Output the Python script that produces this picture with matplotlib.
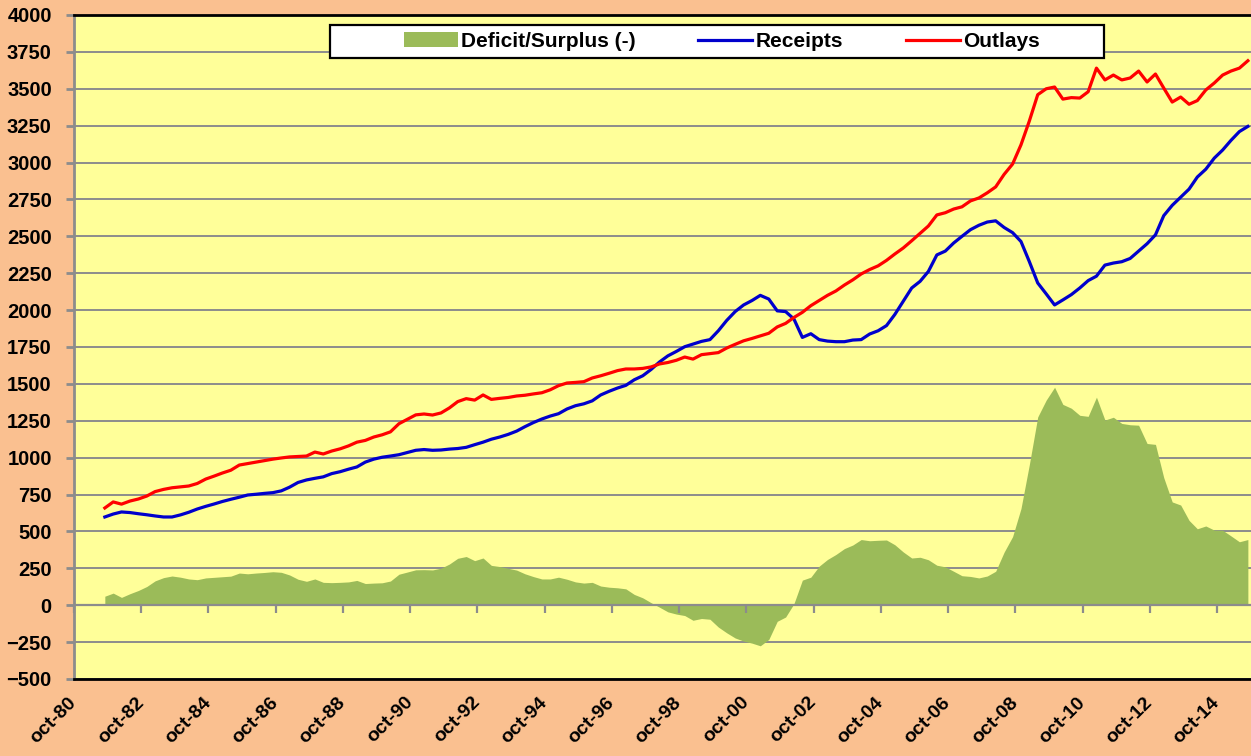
import matplotlib
matplotlib.use("Agg")
import matplotlib.pyplot as plt
import matplotlib.dates as mdates
import matplotlib.ticker as mticker
from matplotlib.patches import Rectangle
import numpy as np
import pandas as pd

plt.rcParams['font.family'] = ['Liberation Sans', 'DejaVu Sans']
plt.rcParams['font.weight'] = 'bold'

# rolling 12-month totals, billions $, one value per quarter from sep-81
receipts = [598, 618, 632, 628, 620, 613, 605, 598, 598, 612,
            630, 652, 670, 686, 703, 718, 732, 747, 752, 758,
            763, 775, 800, 832, 849, 860, 870, 892, 905, 922,
            937, 970, 990, 1003, 1011, 1020, 1035, 1050, 1055, 1050,
            1052, 1058, 1062, 1070, 1088, 1105, 1125, 1140, 1158, 1180,
            1210, 1238, 1262, 1282, 1298, 1330, 1352, 1365, 1385, 1425,
            1450, 1472, 1490, 1528, 1555, 1598, 1648, 1690, 1720, 1752,
            1770, 1788, 1800, 1860, 1930, 1990, 2035, 2065, 2100, 2075,
            1995, 1990, 1940, 1815, 1840, 1800, 1790, 1786, 1786, 1797,
            1800, 1838, 1860, 1895, 1970, 2060, 2150, 2195, 2262, 2374,
            2400, 2455, 2500, 2545, 2575, 2597, 2605, 2560, 2525, 2465,
            2330, 2184, 2110, 2035, 2069, 2105, 2150, 2200, 2230, 2305,
            2319, 2328, 2350, 2400, 2450, 2510, 2640, 2710, 2765, 2820,
            2902, 2955, 3030, 3085, 3150, 3210, 3245]

outlays = [659, 700, 685, 706, 720, 740, 770, 785, 796, 802,
           808, 825, 855, 875, 896, 915, 950, 960, 970, 980,
           990, 998, 1005, 1008, 1011, 1038, 1025, 1045, 1060, 1080,
           1105, 1117, 1140, 1155, 1175, 1230, 1260, 1290, 1296, 1289,
           1303, 1337, 1380, 1400, 1390, 1425, 1395, 1402, 1408, 1418,
           1423, 1432, 1440, 1460, 1488, 1506, 1510, 1515, 1540, 1555,
           1572, 1590, 1601, 1601, 1605, 1615, 1635, 1645, 1660, 1682,
           1668, 1698, 1705, 1712, 1743, 1768, 1792, 1808, 1825, 1843,
           1886, 1910, 1950, 1985, 2030, 2065, 2100, 2130, 2170, 2205,
           2245, 2275, 2300, 2337, 2380, 2421, 2470, 2520, 2570, 2645,
           2660, 2685, 2700, 2740, 2760, 2795, 2835, 2920, 2990, 3120,
           3280, 3460, 3500, 3512, 3430, 3440, 3437, 3480, 3640, 3560,
           3593, 3560, 3573, 3620, 3546, 3600, 3505, 3410, 3444, 3395,
           3420, 3492, 3539, 3593, 3620, 3640, 3690]

dates = pd.date_range('1981-09-01', periods=len(receipts), freq='3MS')
deficit = np.array(outlays) - np.array(receipts)

grid_col = '#8C8C8C'

fig = plt.figure(figsize=(12.51, 7.56), dpi=100, facecolor='#FAC090')
ax = fig.add_axes([74 / 1251, 77 / 756, 1177 / 1251, 664 / 756])
ax.set_facecolor('#FFFF99')

ax.fill_between(dates, deficit, 0, color='#9BBB59', lw=0, zorder=2,
                label='Deficit/Surplus (-)')
ax.plot(dates, receipts, color='#0000CC', lw=2.3, zorder=3, label='Receipts')
ax.plot(dates, outlays, color='#FF0000', lw=2.3, zorder=3, label='Outlays')

ax.set_ylim(-500, 4000)
ax.set_yticks(np.arange(-500, 4001, 250))
ax.set_xlim(pd.Timestamp('1980-10-01'), pd.Timestamp('2015-10-05'))
ax.grid(axis='y', color=grid_col, lw=1.4, zorder=1)
ax.set_axisbelow(True)
ax.axhline(0, color=grid_col, lw=1.6, zorder=4)

loc = mdates.YearLocator(2, month=10, day=1)
ax.xaxis.set_major_locator(loc)
ax.xaxis.set_major_formatter(
    mticker.FuncFormatter(lambda v, p: mdates.num2date(v).strftime('%b-%y').lower()))
ax.tick_params(axis='x', length=0, pad=15, labelsize=14)
ax.tick_params(axis='y', length=6, width=2, color=grid_col, pad=10, labelsize=14.5)
plt.setp(ax.get_xticklabels(), rotation=45, ha='right', va='center',
         rotation_mode='anchor', fontweight='bold')
plt.setp(ax.get_yticklabels(), fontweight='bold')

for s in ['top', 'bottom']:
    ax.spines[s].set_color('black')
    ax.spines[s].set_linewidth(2)
ax.spines['left'].set_color(grid_col)
ax.spines['left'].set_linewidth(2)
ax.spines['right'].set_visible(False)

# tick marks sitting on the zero line
sec = ax.secondary_xaxis(500 / 4500)
sec.xaxis.set_major_locator(mdates.YearLocator(2, month=10, day=1))
sec.tick_params(length=6, width=1.6, color=grid_col, labelbottom=False, direction='out')
sec.spines['bottom'].set_visible(False)
sec.set_zorder(5)

# legend box
cx, cy, bw, bh = 0.5463, 0.960, 0.6576, 0.0497
ax.add_patch(Rectangle((cx - bw / 2, cy - bh / 2), bw, bh, transform=ax.transAxes,
                       facecolor='white', edgecolor='black', lw=1.6, zorder=6))
leg = ax.legend(ncol=3, loc='center', bbox_to_anchor=(cx + 0.004, cy), frameon=False,
                prop={'size': 15, 'weight': 'bold'}, handlelength=2.6,
                handletextpad=0.15, columnspacing=3.0)
leg.set_zorder(7)

fig.savefig('out.png', dpi=100, facecolor=fig.get_facecolor())
